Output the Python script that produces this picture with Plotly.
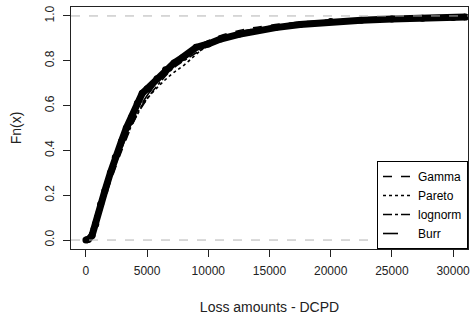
import plotly.graph_objects as go

ecdf_x = [0, 200, 500, 800, 1200, 1550, 2000, 2400, 2900, 3300, 3750, 4200, 4600, 5000,
          5800, 6500, 7200, 7900, 9000, 10000, 11000, 12500, 14000, 15500, 17500, 20000,
          22500, 25000, 27500, 30000, 31000]
ecdf_y = [0.0, 0.003, 0.02, 0.07, 0.16, 0.22, 0.30, 0.37, 0.44, 0.50, 0.55, 0.61, 0.655, 0.675,
          0.72, 0.76, 0.79, 0.815, 0.86, 0.875, 0.897, 0.918, 0.935, 0.948, 0.962, 0.975,
          0.981, 0.986, 0.99, 0.993, 0.995]

# Fitted CDFs on a common grid
fit_x = [0, 250, 500, 1000, 1500, 2000, 3000, 4000, 5000, 6000, 7000, 8000, 10000, 12000,
         15000, 20000, 25000, 31000]
gamma_y = [0.0, 0.01, 0.035, 0.10, 0.18, 0.26, 0.41, 0.54, 0.64, 0.72, 0.78, 0.83, 0.89, 0.928,
           0.958, 0.982, 0.992, 0.997]
pareto_y = [0.0, 0.02, 0.06, 0.15, 0.24, 0.32, 0.45, 0.55, 0.63, 0.69, 0.74, 0.78, 0.87, 0.905,
            0.94, 0.967, 0.98, 0.988]
lognorm_y = [0.0, 0.003, 0.02, 0.09, 0.18, 0.27, 0.42, 0.54, 0.63, 0.70, 0.76, 0.80, 0.865, 0.905,
             0.94, 0.97, 0.983, 0.99]
burr_y = [0.0, 0.005, 0.025, 0.10, 0.19, 0.28, 0.43, 0.55, 0.645, 0.715, 0.77, 0.815, 0.88, 0.92,
          0.953, 0.978, 0.988, 0.993]

fits = [("Gamma", gamma_y, "dash"), ("Pareto", pareto_y, "dot"),
        ("lognorm", lognorm_y, "dashdot"), ("Burr", burr_y, "longdash")]

x_ticks = [0, 5000, 10000, 15000, 20000, 25000, 30000]
x_tick_text = ["0", "5000", "10000", "15000", "20000", "25000", "30000"]
y_ticks = [0.0, 0.2, 0.4, 0.6, 0.8, 1.0]
y_tick_text = ["0.0", "0.2", "0.4", "0.6", "0.8", "1.0"]

fig = go.Figure()
fig.add_hline(y=0, line=dict(color="#b3b3b3", width=1, dash="dash"))
fig.add_hline(y=1, line=dict(color="#b3b3b3", width=1, dash="dash"))

fig.add_trace(go.Scatter(x=ecdf_x, y=ecdf_y, mode="lines+markers",
                         line=dict(color="black", width=7),
                         marker=dict(color="black", size=7), showlegend=False))
for name, ys, dash in fits:
    fig.add_trace(go.Scatter(x=fit_x, y=ys, mode="lines", name=name,
                             line=dict(color="black", width=1.6, dash=dash, shape="spline")))

font = dict(family="Liberation Sans, Arial, sans-serif", size=12, color="#222")
fig.update_layout(
    width=474, height=320, margin=dict(l=71, r=4, t=7, b=71),
    plot_bgcolor="white", paper_bgcolor="white", font=font,
    legend=dict(x=1, y=0, xanchor="right", yanchor="bottom", bordercolor="black",
                borderwidth=1, bgcolor="white", font=dict(size=12, color="black"),
                tracegroupgap=0, itemwidth=30),
    xaxis=dict(range=[-1220, 31220], tickvals=x_ticks, ticktext=x_tick_text,
               showgrid=False, zeroline=False,
               showline=True, mirror=True, linecolor="#222", linewidth=1,
               ticks="outside", ticklen=7, tickcolor="#222", ticklabelstandoff=4,
               title=dict(text="Loss amounts - DCPD", standoff=24)),
    yaxis=dict(range=[-0.04, 1.04], tickvals=y_ticks, ticktext=y_tick_text, tickangle=-90,
               showgrid=False, zeroline=False, showline=True, mirror=True,
               linecolor="#222", linewidth=1, ticks="outside", ticklen=7, tickcolor="#222",
               ticklabelstandoff=4, title=dict(text="Fn(x)", standoff=18)),
)
fig.write_html("out.html")
